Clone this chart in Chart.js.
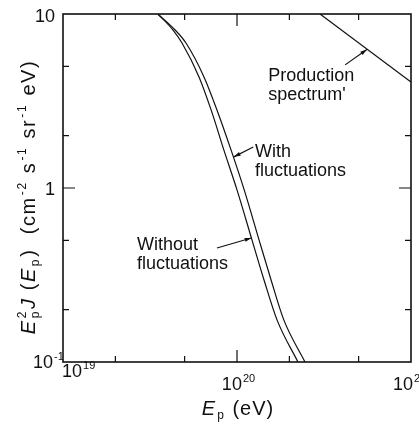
<!DOCTYPE html>
<html>
<head>
<meta charset="utf-8">
<script src="https://cdn.jsdelivr.net/npm/chart.js@4.4.1/dist/chart.umd.min.js"></script>
<style>
  html, body { margin: 0; padding: 0; background: #fff; }
  #wrap { width: 419px; height: 429px; }
</style>
</head>
<body>
<div id="wrap"><canvas id="spectrumChart" width="419" height="429"></canvas></div>
<script>
// proton energy (eV) and E^2 J(E)
const fluxJ = [10, 8.09, 6.81, 4.35, 2.81, 1.65, 0.975, 0.502, 0.296, 0.174, 0.1];
const withoutE = [3.51e19, 4.29e19, 4.83e19, 6.05e19, 7.10e19, 8.41e19, 1.00e20, 1.22e20, 1.43e20, 1.70e20, 2.24e20];
const withE = [3.51e19, 4.41e19, 5.09e19, 6.46e19, 7.67e19, 9.25e19, 1.10e20, 1.34e20, 1.57e20, 1.86e20, 2.46e20];
const prodE = [3.0e20, 1e21];
const prodJ = [10, 4.06];

// axis ticks
const xMinor = [2e19, 5e19, 2e20, 5e20];
const xMajor = [1e20];
const xLabels = [[1e19, '19'], [1e20, '20'], [1e21, '21']];
const yMinor = [5, 2, 0.5, 0.2];
const yMajor = [1];

// annotations (data coordinates)
const notes = [
    { x: 1.51e20, y: 4.12, lines: ['Production', "spectrum'"] },
    { x: 1.27e20, y: 1.51, lines: ['With', 'fluctuations'] },
    { x: 2.66e19, y: 0.44, lines: ['Without', 'fluctuations'] },
];
const arrows = [
    { from: [4.18e20, 5.1], to: [5.58e20, 6.25] },
    { from: [1.24e20, 1.72], to: [9.6e19, 1.51] },
    { from: [7.67e19, 0.452], to: [1.21e20, 0.516] },
];

const FONT = '"Liberation Sans", Arial, sans-serif';
const pts = (xs, ys) => xs.map((x, i) => ({ x: x, y: ys[i] }));

function rich(ctx, parts, x, y, size, draw) {
    let cx = x;
    for (const p of parts) {
        if (p.sup !== undefined || p.sub !== undefined) {
            ctx.font = Math.round(size * 0.62) + 'px ' + FONT;
            let w = 0;
            if (p.sup) {
                if (draw) ctx.fillText(p.sup, cx + 1, y - size * 0.45);
                w = Math.max(w, ctx.measureText(p.sup).width);
            }
            if (p.sub) {
                if (draw) ctx.fillText(p.sub, cx + 1, y + size * 0.22);
                w = Math.max(w, ctx.measureText(p.sub).width);
            }
            cx += w + 2;
        } else {
            ctx.font = (p.i ? 'italic ' : '') + size + 'px ' + FONT;
            if (draw) ctx.fillText(p.t, cx, y);
            cx += ctx.measureText(p.t).width;
        }
    }
    return cx - x;
}

function arrow(ctx, x0, y0, x1, y1) {
    ctx.beginPath();
    ctx.moveTo(x0, y0);
    ctx.lineTo(x1, y1);
    ctx.stroke();
    const a = Math.atan2(y1 - y0, x1 - x0);
    ctx.beginPath();
    ctx.moveTo(x1, y1);
    ctx.lineTo(x1 - 7 * Math.cos(a - 0.3), y1 - 7 * Math.sin(a - 0.3));
    ctx.lineTo(x1 - 7 * Math.cos(a + 0.3), y1 - 7 * Math.sin(a + 0.3));
    ctx.closePath();
    ctx.fill();
}

const decorations = {
    id: 'decorations',
    afterDraw(chart) {
        const { ctx, chartArea: a, scales: { x, y } } = chart;
        ctx.save();
        ctx.strokeStyle = '#111';
        ctx.fillStyle = '#111';
        ctx.textBaseline = 'alphabetic';

        // frame
        ctx.lineWidth = 1.6;
        ctx.strokeRect(a.left, a.top, a.right - a.left, a.bottom - a.top);

        // inward ticks on all four sides
        ctx.lineWidth = 1.2;
        ctx.beginPath();
        const tx = (v, len) => {
            const px = x.getPixelForValue(v);
            ctx.moveTo(px, a.bottom); ctx.lineTo(px, a.bottom - len);
            ctx.moveTo(px, a.top); ctx.lineTo(px, a.top + len);
        };
        const ty = (v, len) => {
            const py = y.getPixelForValue(v);
            ctx.moveTo(a.left, py); ctx.lineTo(a.left + len, py);
            ctx.moveTo(a.right, py); ctx.lineTo(a.right - len, py);
        };
        xMinor.forEach(v => tx(v, 6));
        xMajor.forEach(v => tx(v, 12));
        yMinor.forEach(v => ty(v, 6));
        yMajor.forEach(v => ty(v, 12));
        ctx.stroke();

        // y tick labels
        ctx.font = '18px ' + FONT;
        ctx.textAlign = 'right';
        ctx.fillText('10', a.left - 8, y.getPixelForValue(10) + 8);
        ctx.fillText('1', a.left - 8, y.getPixelForValue(1) + 7);
        ctx.textAlign = 'left';
        const yl = y.getPixelForValue(0.1) + 6;
        const w10 = ctx.measureText('10').width;
        rich(ctx, [{ t: '10' }, { sup: '-1' }], a.left - 10 - w10, yl, 18, true);

        // x tick labels
        xLabels.forEach(([v, e], i) => {
            const parts = [{ t: '10' }, { sup: e }];
            const w = rich(ctx, parts, 0, 0, 18, false);
            const px = x.getPixelForValue(v);
            let left = px - w / 2 + 2;
            let base = a.bottom + 28;
            if (i === 0) { left = px - 1; base = a.bottom + 15; }
            if (i === xLabels.length - 1) left = px - 18;
            rich(ctx, parts, left, base, 18, true);
        });

        // x title
        ctx.letterSpacing = '1px';
        const xt = [{ t: 'E', i: 1 }, { sub: 'p' }, { t: ' (eV)' }];
        const xw = rich(ctx, xt, 0, 0, 20, false);
        rich(ctx, xt, (a.left + a.right) / 2 - xw / 2 + 1, a.bottom + 53, 20, true);

        // y title (rotated)
        ctx.letterSpacing = '1.6px';
        const yt = [{ t: 'E', i: 1 }, { sup: '2', sub: 'p' }, { t: 'J', i: 1 }, { t: ' (' }, { t: 'E', i: 1 }, { sub: 'p' },
            { t: ')  (cm' }, { sup: '-2' }, { t: ' s' }, { sup: '-1' }, { t: ' sr' }, { sup: '-1' }, { t: ' eV)' }];
        const yw = rich(ctx, yt, 0, 0, 20, false);
        ctx.save();
        ctx.translate(35, (a.top + a.bottom) / 2 + 9);
        ctx.rotate(-Math.PI / 2);
        rich(ctx, yt, -yw / 2, 0, 20, true);
        ctx.restore();
        ctx.letterSpacing = '0px';

        // annotations
        ctx.font = '18px ' + FONT;
        notes.forEach(n => {
            const px = x.getPixelForValue(n.x);
            const py = y.getPixelForValue(n.y);
            n.lines.forEach((s, k) => ctx.fillText(s, px, py + k * 19));
        });
        ctx.lineWidth = 1.2;
        arrows.forEach(r => {
            arrow(ctx, x.getPixelForValue(r.from[0]), y.getPixelForValue(r.from[1]),
                x.getPixelForValue(r.to[0]), y.getPixelForValue(r.to[1]));
        });
        ctx.restore();
    }
};

const lineStyle = {
    showLine: true,
    borderColor: '#111',
    borderWidth: 1.2,
    pointRadius: 0,
    fill: false,
    cubicInterpolationMode: 'monotone',
};

new Chart(document.getElementById('spectrumChart'), {
    type: 'scatter',
    data: {
        datasets: [
            { label: 'Without fluctuations', data: pts(withoutE, fluxJ), ...lineStyle },
            { label: 'With fluctuations', data: pts(withE, fluxJ), ...lineStyle },
            { label: 'Production spectrum', data: pts(prodE, prodJ), ...lineStyle, cubicInterpolationMode: 'default' },
        ]
    },
    options: {
        responsive: false,
        animation: false,
        layout: { padding: { left: 63, right: 8, top: 14, bottom: 67 } },
        plugins: { legend: { display: false }, tooltip: { enabled: false } },
        scales: {
            x: {
                type: 'logarithmic', min: 1e19, max: 1e21,
                ticks: { display: false }, grid: { display: false }, border: { display: false },
                afterFit: s => { s.height = 0; }
            },
            y: {
                type: 'logarithmic', min: 0.1, max: 10,
                ticks: { display: false }, grid: { display: false }, border: { display: false },
                afterFit: s => { s.width = 0; }
            }
        }
    },
    plugins: [decorations]
});
</script>
</body>
</html>
